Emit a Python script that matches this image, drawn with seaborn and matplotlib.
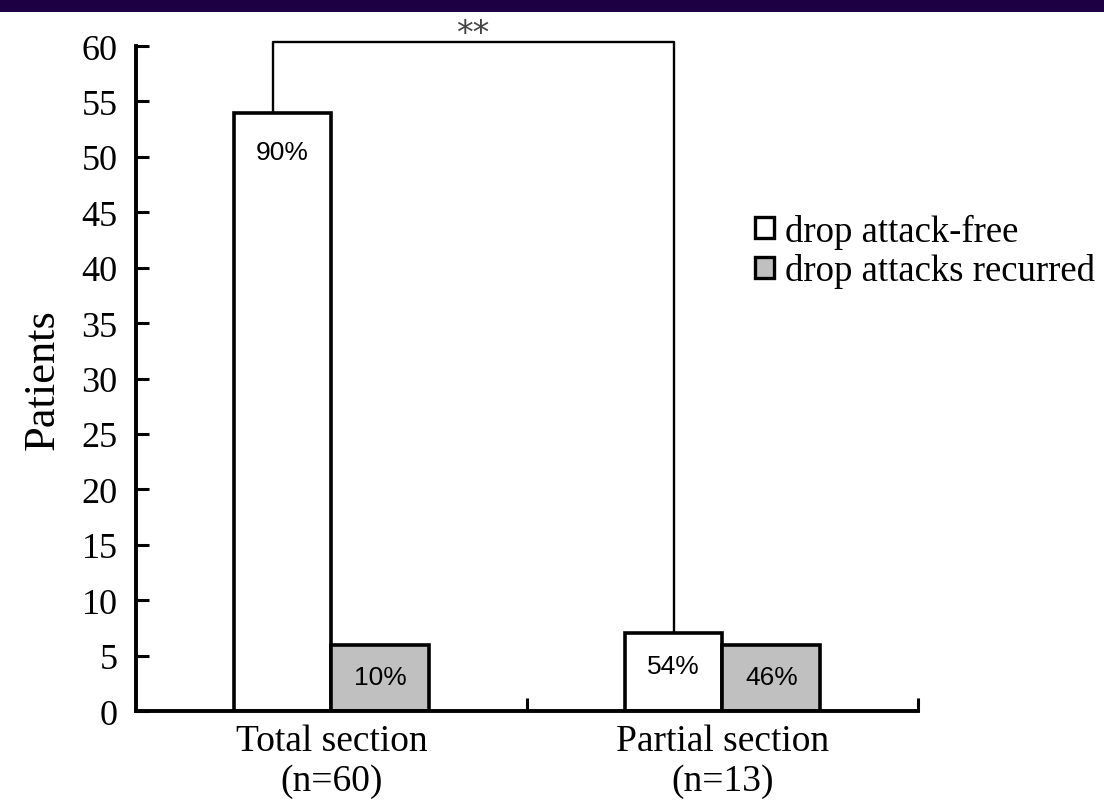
import matplotlib
matplotlib.use("Agg")
import matplotlib.pyplot as plt
from matplotlib.patches import Rectangle, Patch
import seaborn as sns
import pandas as pd

# data
groups = ["Total section\n(n=60)", "Partial section\n(n=13)"]
outcomes = ["drop attack-free", "drop attacks recurred"]
free_counts = [54, 7]
recur_counts = [6, 6]
free_pct = ["90%", "54%"]
recur_pct = ["10%", "46%"]

df = pd.DataFrame({
    "group": groups * 2,
    "outcome": [outcomes[0]] * 2 + [outcomes[1]] * 2,
    "count": free_counts + recur_counts,
})

sns.set_theme(style="white")
plt.rcParams["font.family"] = ["Liberation Serif", "DejaVu Serif"]
plt.rcParams["text.color"] = "black"
plt.rcParams["axes.labelcolor"] = "black"
plt.rcParams["xtick.color"] = "black"
plt.rcParams["ytick.color"] = "black"

fig = plt.figure(figsize=(11.04, 8.04), dpi=100)
ax = fig.add_axes([0.123, 0.1144, 0.7085, 0.8271])

colors = ["white", "#c0c0c0"]
sns.barplot(data=df, x="group", y="count", hue="outcome", palette=colors,
            width=0.5, gap=0, saturation=1, edgecolor="black", linewidth=2.6,
            legend=False, ax=ax)

ax.set_xlim(-0.5, 1.5)
ax.set_ylim(0, 60)
ax.set_yticks(range(0, 61, 5))
ax.set_xlabel("")
ax.set_ylabel("Patients", fontsize=32, labelpad=14)

for s in ["top", "right"]:
    ax.spines[s].set_visible(False)
for s in ["left", "bottom"]:
    ax.spines[s].set_linewidth(2.8)
    ax.spines[s].set_color("black")

ax.tick_params(axis="y", left=True, direction="in", length=9.5, width=2.2,
               labelsize=26, pad=13)
ax.tick_params(axis="x", which="major", length=0, labelsize=27, pad=9)
for lab in ax.get_xticklabels():
    lab.set_linespacing(1.2)
ax.set_xticks([0.5, 1.5], minor=True)
ax.tick_params(axis="x", which="minor", bottom=True, direction="in", length=9.5, width=2.2)

# percentage labels inside the bars
narrow = ["Liberation Sans Narrow", "Liberation Sans", "DejaVu Sans"]
for cont, labels in zip(ax.containers, [free_pct, recur_pct]):
    for bar, lab in zip(cont, labels):
        h = bar.get_height()
        y = h - 3.6 if h > 10 else h - 2.9
        ax.text(bar.get_x() + bar.get_width() / 2, y, lab, ha="center", va="center",
                fontsize=19, family=narrow)

# significance bracket between the two attack-free bars
b1, b2 = ax.containers[0][0], ax.containers[0][1]
x1 = b1.get_x() + b1.get_width() * 0.4
x2 = b2.get_x() + b2.get_width() / 2
ytop = 60.4
ax.plot([x1, x1, x2, x2], [b1.get_height(), ytop, ytop, b2.get_height()],
        color="black", lw=1.7, clip_on=False)
ax.text((x1 + x2) / 2, 60.3, "**", ha="center", va="baseline",
        fontsize=24, family=["DejaVu Sans"], color="#444444")

# legend
handles = [Patch(facecolor=c, edgecolor="black", linewidth=2.4) for c in colors]
fig.legend(handles, outcomes, loc="center left", bbox_to_anchor=(0.684, 0.6866),
           frameon=False, fontsize=26.5, handlelength=0.5, handleheight=0.5,
           handletextpad=0.3, labelspacing=0.12, borderpad=0, borderaxespad=0)

# dark band along the top edge
fig.patches.append(Rectangle((0, 1 - 13 / 804), 1, 13 / 804, transform=fig.transFigure,
                             facecolor="#1d0044", edgecolor="none", zorder=10))

fig.savefig("out.png", dpi=100)
